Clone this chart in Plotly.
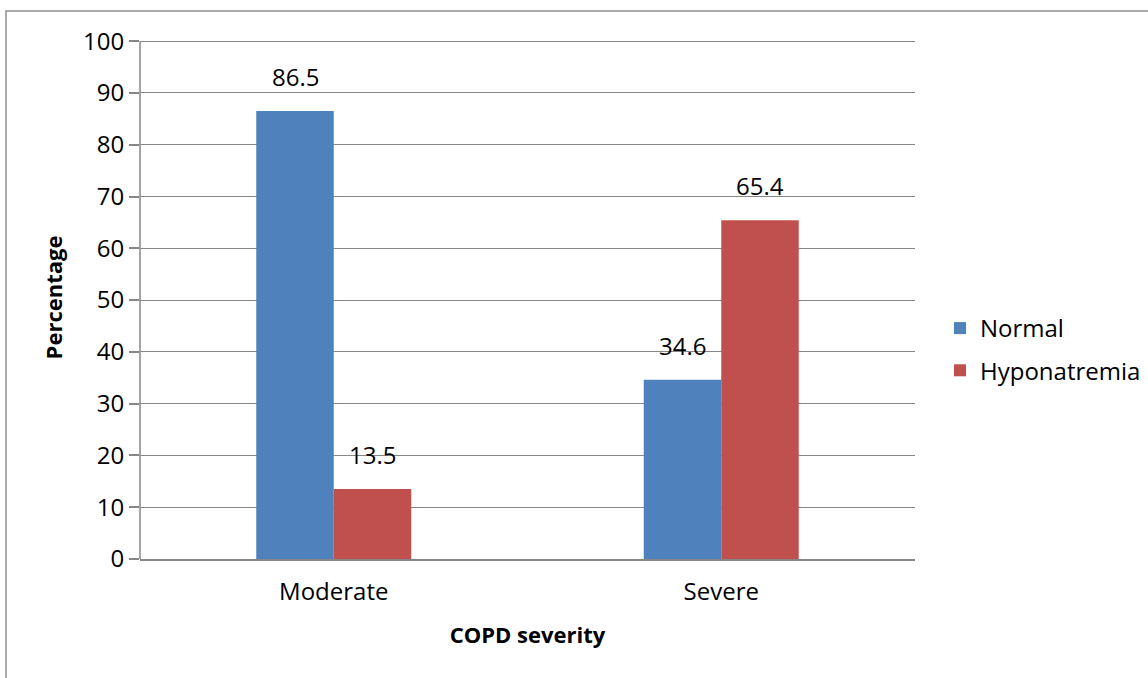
import plotly.graph_objects as go

categories = ["Moderate", "Severe"]
normal = [86.5, 34.6]
hyponatremia = [13.5, 65.4]
series_names = ["Normal", "Hyponatremia"]
colors = ["#4F81BD", "#C0504D"]
y_ticks = list(range(0, 101, 10))

FONT = "'Open Sans', Lato, sans-serif"
FS = 24
FS_TITLE = 22
AXIS_GREY = "#868686"
W, H = 1148, 678
L, R, T, B = 140, 233, 36, 119
plot_w = W - L - R
plot_h = H - T - B
Y_MAX = 101

fig = go.Figure()
for name, vals, col in zip(series_names, [normal, hyponatremia], colors):
    fig.add_trace(go.Bar(
        x=categories, y=vals, name=name, legendgroup=name,
        marker=dict(color=col, line=dict(width=0)),
    ))

# value labels above each bar
annotations = []
for k, vals in enumerate([normal, hyponatremia]):
    for i, (cat, v) in enumerate(zip(categories, vals)):
        annotations.append(dict(
            x=i + (-0.1 if k == 0 else 0.1), y=v, xref="x", yref="y",
            text=f"{v}", showarrow=False, yanchor="bottom", yshift=16,
            font=dict(family=FONT, size=FS, color="#000000"),
        ))


def px_x(p):
    return (p - L) / plot_w


def px_y(p):
    return (H - B - p) / plot_h


shapes = [
    # outer chart border
    dict(
        type="rect", xref="paper", yref="paper",
        x0=px_x(6), x1=px_x(1160), y0=px_y(690), y1=px_y(11),
        line=dict(color="#8E8E8E", width=1.5), fillcolor="rgba(0,0,0,0)",
        layer="below",
    ),
    # vertical value axis line, from 0 up to the last tick
    dict(
        type="line", xref="paper", yref="y",
        x0=0, x1=0, y0=0, y1=y_ticks[-1],
        line=dict(color=AXIS_GREY, width=1.5), layer="above",
    ),
]

fig.update_layout(
    width=W, height=H,
    margin=dict(l=L, r=R, t=T, b=B, autoexpand=False),
    paper_bgcolor="white", plot_bgcolor="white",
    barmode="group", bargap=0.6, bargroupgap=0,
    font=dict(family=FONT, size=FS, color="#000000"),
    showlegend=True,
    legend=dict(
        x=px_x(940), y=px_y(306), xanchor="left", yanchor="top",
        font=dict(family=FONT, size=FS), itemwidth=30,
        traceorder="grouped", tracegroupgap=8, bgcolor="rgba(0,0,0,0)",
    ),
    annotations=annotations,
    shapes=shapes,
)
fig.update_xaxes(
    showgrid=False, showline=True, linecolor=AXIS_GREY, linewidth=1.5,
    ticks="", tickfont=dict(family=FONT, size=FS), ticklabelstandoff=10,
    title=dict(text="<b>COPD severity</b>", font=dict(family=FONT, size=FS_TITLE), standoff=22),
)
fig.update_yaxes(
    range=[0, Y_MAX], tickvals=y_ticks, showgrid=True, gridcolor=AXIS_GREY, gridwidth=1.2,
    showline=False,
    ticks="outside", ticklen=10, tickcolor=AXIS_GREY, tickwidth=1.5,
    tickfont=dict(family=FONT, size=FS), zeroline=False,
    title=dict(text="<b>Percentage</b>", font=dict(family=FONT, size=FS_TITLE), standoff=14),
)

fig.write_html("out.html")
